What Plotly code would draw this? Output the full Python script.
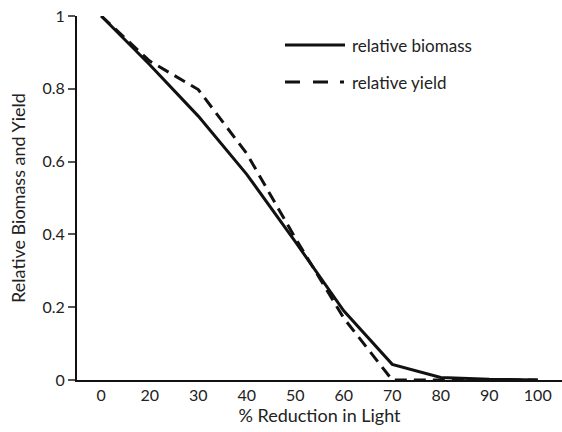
import plotly.graph_objects as go

categories = ["0", "20", "30", "40", "50", "60", "70", "80", "90", "100"]
relative_biomass = [1.0, 0.866, 0.725, 0.565, 0.38, 0.19, 0.043, 0.007, 0.002, 0.0]
relative_yield = [1.0, 0.876, 0.798, 0.622, 0.39, 0.17, 0.0, 0.0, 0.0, 0.0]
y_ticks = [0, 0.2, 0.4, 0.6, 0.8, 1]
y_tick_labels = ["0", "0.2", "0.4", "0.6", "0.8", "1"]
series_names = ["relative biomass", "relative yield"]

FONT = "Lato"
INK = "#111111"
TEXT = "#222222"

fig = go.Figure()
fig.add_trace(go.Scatter(x=categories, y=relative_biomass, mode="lines",
                         name=series_names[0],
                         line=dict(color=INK, width=3), showlegend=False))
fig.add_trace(go.Scatter(x=categories, y=relative_yield, mode="lines",
                         name=series_names[1],
                         line=dict(color=INK, width=3, dash="12px,7px"), showlegend=False))

W, H = 562, 432
L, R, T, B = 77, 0, 16, 52
pw, ph = W - L - R, H - T - B

def px(xp):
    return (xp - L) / pw

def py(yp):
    return (H - B - yp) / ph

# legend drawn manually (line samples + labels)
shapes = [
    dict(type="line", xref="paper", yref="paper", x0=px(285), x1=px(345), y0=py(45), y1=py(45),
         line=dict(color=INK, width=3)),
    dict(type="line", xref="paper", yref="paper", x0=px(285), x1=px(346), y0=py(82), y1=py(82),
         line=dict(color=INK, width=3, dash="15px,13px,15px,12px,4px")),
]
annotations = [
    dict(x=px(350), y=py(45), xref="paper", yref="paper", text=series_names[0], showarrow=False,
         xanchor="left", yanchor="middle", font=dict(family=FONT, size=17, color=TEXT)),
    dict(x=px(350), y=py(82), xref="paper", yref="paper", text=series_names[1], showarrow=False,
         xanchor="left", yanchor="middle", font=dict(family=FONT, size=17, color=TEXT)),
]

fig.update_layout(
    width=W, height=H,
    margin=dict(l=L, r=R, t=T, b=B),
    paper_bgcolor="white", plot_bgcolor="white",
    font=dict(family=FONT, size=16, color=TEXT),
    shapes=shapes, annotations=annotations,
    xaxis=dict(type="category", categoryorder="array", categoryarray=categories,
               range=[-0.5, 9.5], showline=True, linecolor=INK, linewidth=2,
               ticks="", showgrid=False, zeroline=False,
               title=dict(text="% Reduction in Light", standoff=4, font=dict(size=18)),
               tickfont=dict(size=16)),
    yaxis=dict(range=[0, 1], tickvals=y_ticks, ticktext=y_tick_labels,
               showline=True, linecolor=INK, linewidth=2,
               ticks="outside", ticklen=7, tickcolor="#555", tickwidth=1.5,
               showgrid=False, zeroline=False,
               title=dict(text="Relative Biomass and Yield", standoff=12, font=dict(size=18)),
               tickfont=dict(size=16)),
)

fig.write_html("out.html", config={"displayModeBar": False},
               post_script="document.body.style.margin='0';")
